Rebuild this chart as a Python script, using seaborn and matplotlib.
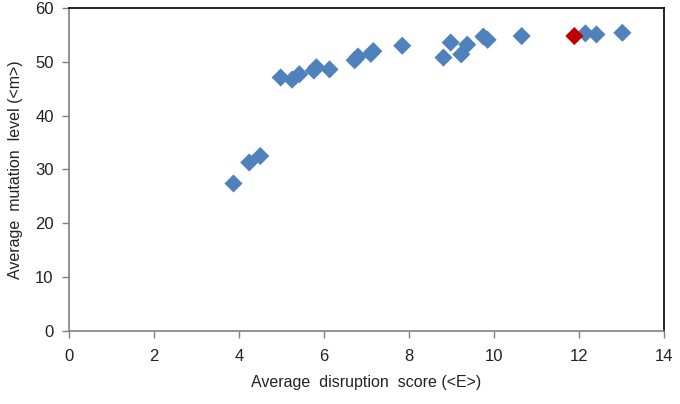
import pandas as pd
import matplotlib
matplotlib.use("Agg")
import matplotlib.pyplot as plt
import seaborn as sns

# ------------------------------------------------------------
# Data
# ------------------------------------------------------------
disruption = [3.87, 4.24, 4.50, 4.98, 5.25, 5.42, 5.76, 5.82, 6.13,
              6.72, 6.80, 7.10, 7.16, 7.84, 8.81, 8.98, 9.23, 9.37,
              9.75, 9.85, 10.65, 12.15, 12.41, 13.02]
mutation = [27.4, 31.3, 32.5, 47.1, 46.7, 47.7, 48.4, 49.0, 48.6,
            50.3, 51.0, 51.5, 52.0, 53.0, 50.8, 53.6, 51.4, 53.2,
            54.7, 54.1, 54.8, 55.3, 55.1, 55.4]

highlight_x = [11.89]
highlight_y = [54.8]

df = pd.DataFrame({"E": disruption, "m": mutation, "group": "all"})
df_hl = pd.DataFrame({"E": highlight_x, "m": highlight_y, "group": "highlight"})
data = pd.concat([df, df_hl], ignore_index=True)

sns.set_theme(style="white")
plt.rcParams["font.family"] = ["Liberation Sans", "DejaVu Sans"]

fig = plt.figure(figsize=(6.8, 4.04), dpi=100)
ax = fig.add_axes([0.1015, 0.181, 0.875, 0.799])

sns.scatterplot(
    data=data, x="E", y="m", hue="group",
    palette={"all": "#4F81BD", "highlight": "#C00000"},
    marker="D", s=85, edgecolor="none", legend=False, ax=ax
)

ax.set_xlim(0, 14)
ax.set_ylim(0, 60)
ax.set_xticks(range(0, 15, 2))
ax.set_yticks(range(0, 61, 10))

ax.set_xlabel("Average  disruption  score (<E>)", fontsize=11.5, color="#222222", labelpad=8)
ax.set_ylabel("Average  mutation  level (<m>)", fontsize=11.5, color="#222222", labelpad=9)

ax.tick_params(axis="both", which="major", direction="out", length=5, width=1,
               color="#808080", labelsize=12, labelcolor="#222222",
               bottom=True, left=True)
ax.tick_params(axis="x", pad=8)
ax.tick_params(axis="y", pad=6)

for side in ["left", "bottom"]:
    ax.spines[side].set_color("#808080")
    ax.spines[side].set_linewidth(1.2)
for side in ["top", "right"]:
    ax.spines[side].set_color("black")
    ax.spines[side].set_linewidth(1.2)

fig.savefig("out.png", dpi=100)
